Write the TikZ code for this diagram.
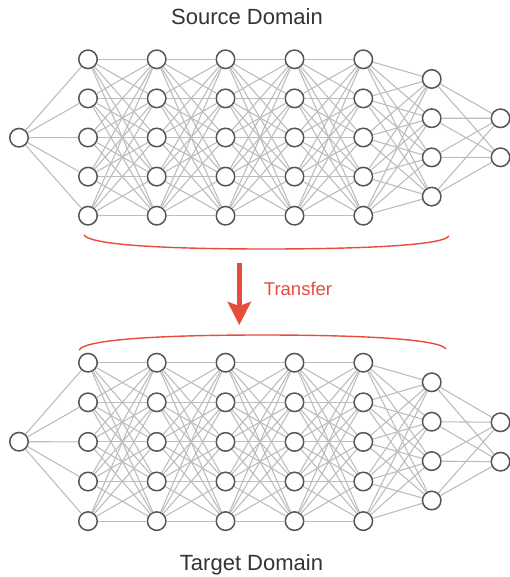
\documentclass[tikz,border=0pt]{standalone}
\usepackage{fontspec}
\setmainfont{Liberation Sans}
\usetikzlibrary{arrows.meta}
\definecolor{nodeline}{HTML}{555555}
\definecolor{edgecol}{HTML}{BDBDBD}
\definecolor{txtcol}{HTML}{333333}
\definecolor{redcol}{HTML}{E74C3C}
\tikzset{
  neuron/.style={circle,draw=nodeline,fill=white,line width=1.5pt,minimum size=18.5pt,inner sep=0pt},
  edge/.style={draw=edgecol,line width=1.1pt},
  title/.style={text=txtcol,font=\fontsize{22}{26}\selectfont,inner sep=0pt,anchor=base},
  bracketline/.style={draw=redcol,line width=1.4pt},
}
\begin{document}
\begin{tikzpicture}[x=1pt,y=-1pt]
\useasboundingbox (0,0) rectangle (510,577);
% ---------- networks ----------
\foreach \p/\off/\sp/\inp/\hs/\hsp/\oa/\ob in {s/59.3/39.1/137.7/79/39.2/118.3/157.3, t/362.7/39.6/441.7/382.3/39.4/422.3/461.7}{
  \node[neuron] (\p-0-1) at (19,\inp) {};
  \foreach \l/\x in {1/88,2/156.7,3/225.5,4/294.5,5/363.3}{
    \foreach \i in {1,...,5}{
      \node[neuron] (\p-\l-\i) at (\x,{\off+\sp*(\i-1)}) {};
    }
  }
  \foreach \j in {1,...,4}{
    \node[neuron] (\p-6-\j) at (431.7,{\hs+\hsp*(\j-1)}) {};
  }
  \node[neuron] (\p-7-1) at (500.5,\oa) {};
  \node[neuron] (\p-7-2) at (500.5,\ob) {};
  \foreach \i in {1,...,5}{ \path[edge] (\p-0-1) -- (\p-1-\i); }
  \foreach \l [evaluate=\l as \n using int(\l+1)] in {1,2,3,4}{
    \foreach \i in {1,...,5}{
      \foreach \k in {1,...,5}{ \path[edge] (\p-\l-\i) -- (\p-\n-\k); }
    }
  }
  \foreach \i in {1,...,5}{
    \foreach \j in {1,...,4}{ \path[edge] (\p-5-\i) -- (\p-6-\j); }
  }
  \foreach \j in {1,...,4}{
    \foreach \k in {1,2}{ \path[edge] (\p-6-\j) -- (\p-7-\k); }
  }
}
% ---------- titles ----------
\node[title] (srctitle) at (247,25) {Source Domain};
\node[title] (tgttitle) at (251.5,570) {Target Domain};
% ---------- brackets ----------
\coordinate (b1l) at (84,235);
\coordinate (b1m) at (266,249);
\coordinate (b1r) at (449,236);
\path[bracketline] (b1l) .. controls (91,246) and (180,249) .. (b1m) .. controls (352,249) and (442,246) .. (b1r);
\coordinate (b2l) at (79,350);
\coordinate (b2m) at (262,335);
\coordinate (b2r) at (446,349);
\path[bracketline] (b2l) .. controls (86,338) and (180,335) .. (b2m) .. controls (345,335) and (439,338) .. (b2r);
% ---------- arrow ----------
\coordinate (arrs) at (239.3,263);
\coordinate (arre) at (239.3,325);
\draw[draw=redcol,line width=5pt,-{Stealth[width=23pt,length=23pt,inset=4pt]},redcol] (arrs) -- (arre);
\node[text=redcol,font=\fontsize{18.5}{22}\selectfont,inner sep=0pt] (transfer) at (298,289) {Transfer};
\end{tikzpicture}
\end{document}
